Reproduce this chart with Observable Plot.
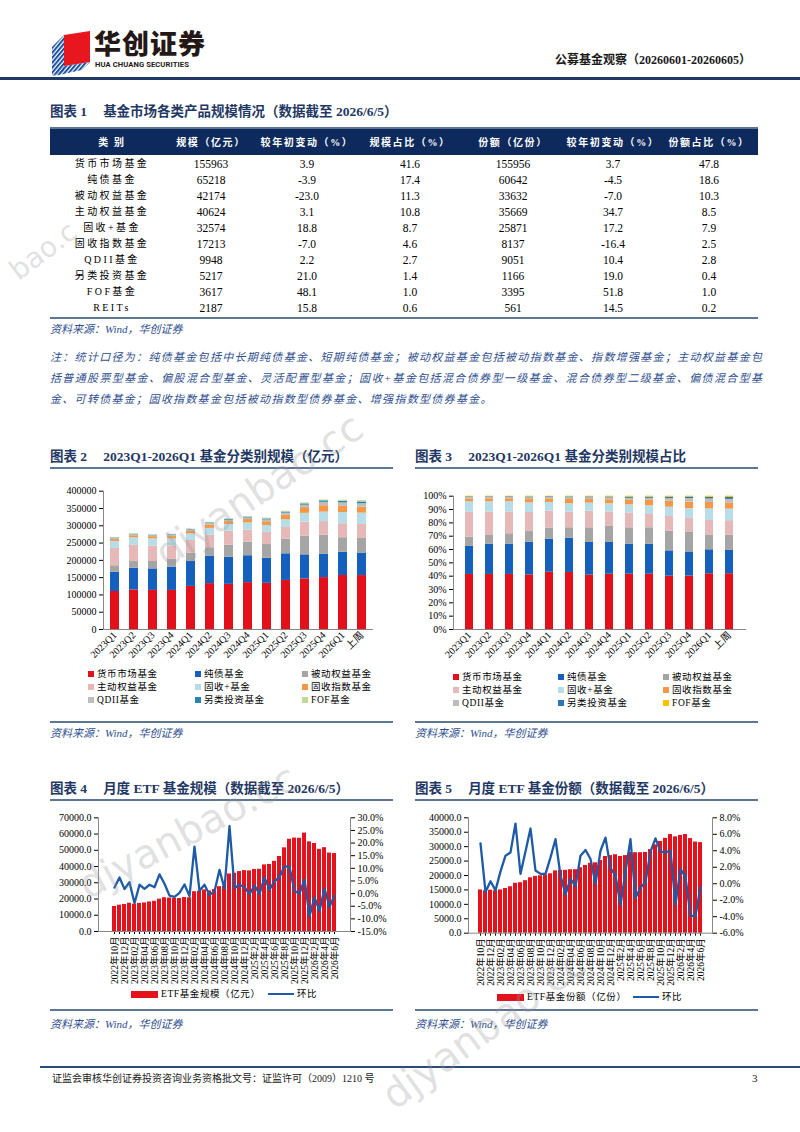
<!DOCTYPE html>
<html lang="zh-CN">
<head>
<meta charset="utf-8">
<title>公募基金观察</title>
<script src="https://cdn.jsdelivr.net/npm/d3@7"></script>
<script src="https://cdn.jsdelivr.net/npm/@observablehq/plot@0.6"></script>
<style>
html,body{margin:0;padding:0;background:#fff;}
#page{position:relative;width:800px;height:1132px;overflow:hidden;font-family:"Liberation Serif","Noto Sans CJK SC",serif;color:#000;}
.a{position:absolute;white-space:nowrap;}
.ttl{font-weight:bold;font-size:13.5px;line-height:16px;color:#1F3864;}
.ttl .n{margin-right:16px;}
.hl{position:absolute;height:2px;background:#5E7596;}
.src{font-style:italic;font-size:11px;line-height:14px;color:#2F4F8F;}
.note{font-style:italic;font-size:11px;line-height:14px;color:#2F4F8F;width:712px;text-align:justify;text-align-last:justify;}
.th{color:#fff;font-weight:bold;font-size:10px;letter-spacing:1.6px;text-align:center;width:130px;line-height:25px;}
.td{font-size:11.5px;text-align:center;width:130px;line-height:16px;}
.cat{letter-spacing:2.4px;font-size:10px;}
.lg{font-size:9.5px;line-height:12px;letter-spacing:0.6px;}
.sq{display:inline-block;width:6px;height:6px;margin-right:3px;}
.logo1{font-family:"Noto Sans CJK SC",sans-serif;font-weight:900;font-size:27px;line-height:32px;letter-spacing:1px;color:#231815;}
.logo2{font-family:Roboto,"DejaVu Sans",sans-serif;font-weight:bold;font-size:7.6px;line-height:10px;color:#231815;letter-spacing:0.1px;}
.hdr{font-weight:bold;font-size:12px;line-height:16px;color:#1a1a1a;}
.foot{font-size:10px;line-height:14px;color:#1a1a1a;}
.wm{position:absolute;font-family:"DejaVu Sans",sans-serif;font-size:40px;line-height:46px;color:rgba(150,150,150,0.30);transform-origin:left bottom;white-space:nowrap;pointer-events:none;}
</style>
</head>
<body>
<div id="page"></div>
<script>
// ---------------- DATA ----------------
// Table 1
const tableHeaders = ["类别","规模（亿元）","较年初变动（%）","规模占比（%）","份额（亿份）","较年初变动（%）","份额占比（%）"];
const tableCats = ["货币市场基金","纯债基金","被动权益基金","主动权益基金","固收+基金","固收指数基金","QDII基金","另类投资基金","FOF基金","REITs"];
const tableScale = [155963,65218,42174,40624,32574,17213,9948,5217,3617,2187];
const tableScaleChg = [3.9,-3.9,-23.0,3.1,18.8,-7.0,2.2,21.0,48.1,15.8];
const tableScaleShare = [41.6,17.4,11.3,10.8,8.7,4.6,2.7,1.4,1.0,0.6];
const tableShares = [155956,60642,33632,35669,25871,8137,9051,1166,3395,561];
const tableSharesChg = [3.7,-4.5,-7.0,34.7,17.2,-16.4,10.4,19.0,51.8,14.5];
const tableSharesShare = [47.8,18.6,10.3,8.5,7.9,2.5,2.8,0.4,1.0,0.2];

// Charts 2 & 3 (亿元)
const quarters = ["2023Q1","2023Q2","2023Q3","2023Q4","2024Q1","2024Q2","2024Q3","2024Q4","2025Q1","2025Q2","2025Q3","2025Q4","2026Q1","上周"];
const seriesNames = ["货币市场基金","纯债基金","被动权益基金","主动权益基金","固收+基金","固收指数基金","QDII基金","另类投资基金","FOF基金"];
const moneyMarket     = [109900,114300,113100,113000,124700,132700,130600,135600,133600,141900,146400,150108,156300,155963];
const pureBond        = [55900,62800,62200,67500,71900,79700,78400,77800,72500,77000,69500,67865,67300,65218];
const passiveEquity   = [18600,19400,21400,22100,23800,24200,35200,39200,39600,42100,54200,54774,41900,42174];
const activeEquity    = [49700,47000,44400,39400,37100,36300,40000,35000,35400,34200,40300,39403,40400,40624];
const fixedIncomePlus = [20700,21600,21400,19900,18900,19500,19200,20600,20000,22200,25600,27419,32500,32574];
const bondIndex       = [5300,6100,6000,6900,7800,9900,8600,9800,10600,13700,16500,18509,18000,17213];
const qdii            = [3200,3000,3000,3600,3500,4000,4200,4600,5200,5500,7000,9734,9800,9948];
const alternative     = [1300,1200,1200,1600,1300,2000,2000,2200,2800,3000,3800,4312,4600,5217];
const fof             = [1400,1300,1100,1700,1000,1700,1800,2000,2300,2400,2700,2442,3200,3617];
const seriesColors2 = ["#E3101B","#1560BD","#A5A5A5","#E6B9B8","#B7DDE8","#F79646","#BDBDBD","#2388AE","#C4D79B"];
const seriesColors3 = ["#E3101B","#1560BD","#A5A5A5","#E6B9B8","#B7DDE8","#F79646","#BDBDBD","#2E75B6","#FFC000"];

// Charts 4 & 5 (monthly)
const months = ["2022年10月","2022年11月","2022年12月","2023年01月","2023年02月","2023年03月","2023年04月","2023年05月","2023年06月","2023年07月","2023年08月","2023年09月","2023年10月","2023年11月","2023年12月","2024年01月","2024年02月","2024年03月","2024年04月","2024年05月","2024年06月","2024年07月","2024年08月","2024年09月","2024年10月","2024年11月","2024年12月","2025年1月","2025年2月","2025年3月","2025年4月","2025年5月","2025年6月","2025年7月","2025年8月","2025年9月","2025年10月","2025年11月","2025年12月","2026年1月","2026年2月","2026年3月","2026年4月","2026年5月","2026年6月"];
const monthTicks = ["2022年10月","2022年12月","2023年02月","2023年04月","2023年06月","2023年08月","2023年10月","2023年12月","2024年02月","2024年04月","2024年06月","2024年08月","2024年10月","2024年12月","2025年2月","2025年4月","2025年6月","2025年8月","2025年10月","2025年12月","2026年2月","2026年4月","2026年6月"];
const etfScale = [15400,16200,16600,17400,16800,17300,17600,18200,18600,19900,20800,20600,20400,20300,20900,20800,24500,24800,25600,25000,25900,27600,27800,35400,35800,36900,37500,37300,38200,38300,41000,41300,43200,46200,51500,56800,57500,57400,60600,55200,54200,50600,51600,48300,48000];
const etfScaleMoM = [2.4,6.4,1.8,4.5,-3.8,3.5,1.9,3.5,2.5,7.6,3.9,-0.8,-1.3,0.3,3.6,-1.0,18.6,1.1,3.5,-0.5,0.8,9.4,1.9,26.7,2.2,3.5,2.5,-0.2,3.2,-0.1,6.4,1.6,4.8,6.5,10.9,10.5,1.0,0.0,5.6,-8.9,-1.5,-6.8,2.0,-5.2,-0.8];
const etfShares = [15000,14700,14900,14700,15000,15500,16100,17300,17500,18200,19200,19700,19900,20200,20600,21600,21800,21800,22000,22000,22700,23500,24200,24400,25200,26600,26900,27200,26600,26900,28000,27900,27900,28000,29000,30600,31800,32900,34200,33400,33900,34200,32800,31600,31400];
const etfSharesMoM = [4.9,-1.0,0.3,-0.8,1.5,3.4,3.8,7.3,1.2,3.9,6.7,1.6,1.2,1.2,3.2,5.4,1.0,-1.3,0.6,-0.3,3.4,4.1,3.0,0.0,4.0,5.6,1.9,1.0,-2.6,1.5,5.4,-1.7,-0.5,0.2,3.9,5.5,3.9,3.8,4.0,-2.5,1.8,0.8,-3.9,-3.9,-0.4];
const scaleTicks4 = [0,10000,20000,30000,40000,50000,60000,70000];
const momTicks4 = [-15,-10,-5,0,5,10,15,20,25,30];
const sharesTicks5 = [0,5000,10000,15000,20000,25000,30000,35000,40000];
const momTicks5 = [-6,-4,-2,0,2,4,6,8];

// ---------------- PAGE ----------------
const page = document.getElementById("page");
function el(html) { const t = document.createElement("div"); t.innerHTML = html.trim(); const n = t.firstChild; page.appendChild(n); return n; }
function box(cls, left, top, html, extra="") { return el(`<div class="a ${cls}" style="left:${left}px;top:${top}px;${extra}">${html}</div>`); }
function hline(left, top, width, h=2, color="#5E7596") { return el(`<div class="hl" style="left:${left}px;top:${top}px;width:${width}px;height:${h}px;background:${color}"></div>`); }

// header / logo
el(`<svg class="a" style="left:50px;top:29px" width="44" height="48" viewBox="0 0 44 48">
 <defs><pattern id="st" width="3.2" height="3.2" patternUnits="userSpaceOnUse" patternTransform="rotate(40)"><rect width="2" height="3.2" fill="#1B4FA0"/></pattern></defs>
 <polygon points="2,18 14,6 14,42 2,47" fill="url(#st)"/>
 <polygon points="14,6 40,2 40,33 14,37" fill="#E8161F"/>
 <polygon points="14,37 40,33 32,41 4,47" fill="url(#st)"/>
</svg>`);
box("logo1", 94, 27, "华创证券");
box("logo2", 95, 60, "HUA CHUANG SECURITIES");
box("hdr", 555, 52, "公募基金观察（20260601-20260605）");
hline(0, 77, 800, 3, "#1F3864");

// Table 1
box("ttl", 50, 104, '<span class="n">图表 1</span>基金市场各类产品规模情况（数据截至 2026/6/5）');
hline(50, 127, 708, 2);
el(`<div class="a" style="left:50px;top:129px;width:708px;height:26px;background:#0E2A5C"></div>`);
const colCenters = [112, 211, 307, 410, 513, 613, 709];
tableHeaders.forEach((h, i) => box("th", colCenters[i] - 65, 130, i === 0 ? "类 别" : h));
tableCats.forEach((c, r) => {
  const top = 156 + 16 * r;
  const vals = [c, String(tableScale[r]), tableScaleChg[r].toFixed(1), tableScaleShare[r].toFixed(1),
                String(tableShares[r]), tableSharesChg[r].toFixed(1), tableSharesShare[r].toFixed(1)];
  vals.forEach((v, i) => box("td" + (i === 0 ? " cat" : ""), colCenters[i] - 65, top, v));
});
hline(50, 317, 708, 2);
box("src", 50, 322, "资料来源：Wind，华创证券");
box("note", 50, 350, "注：统计口径为：纯债基金包括中长期纯债基金、短期纯债基金；被动权益基金包括被动指数基金、指数增强基金；主动权益基金包");
box("note", 50, 371, "括普通股票型基金、偏股混合型基金、灵活配置型基金；固收+基金包括混合债券型一级基金、混合债券型二级基金、偏债混合型基");
box("src", 50, 392, "金、可转债基金；固收指数基金包括被动指数型债券基金、增强指数型债券基金。", "letter-spacing:1.3px;");

// Chart titles
box("ttl", 50, 449, '<span class="n">图表 2</span>2023Q1-2026Q1 基金分类别规模（亿元）');
hline(50, 467, 343, 2);
box("ttl", 415, 449, '<span class="n">图表 3</span>2023Q1-2026Q1 基金分类别规模占比');
hline(415, 467, 343, 2);

const fontFam = '"Liberation Serif","Noto Sans CJK SC",serif';
const baseStyle = {fontFamily: fontFam, fontSize: "10px", color: "#000", background: "transparent", overflow: "visible"};

function place(node, left, top) {
  node.style.position = "absolute"; node.style.left = left + "px"; node.style.top = top + "px";
  page.appendChild(node);
}

const seriesArrays = [moneyMarket, pureBond, passiveEquity, activeEquity, fixedIncomePlus, bondIndex, qdii, alternative, fof];
const stackData = [];
seriesNames.forEach((s, si) => quarters.forEach((q, qi) => stackData.push({quarter: q, series: s, value: seriesArrays[si][qi]})));

// Chart 2
const chart2 = Plot.plot({
  width: 360, height: 190,
  marginTop: 10.7, marginRight: 28, marginBottom: 41, marginLeft: 63,
  style: baseStyle,
  x: {domain: quarters, paddingInner: 0.55, paddingOuter: 0.25, label: null},
  y: {domain: [0, 400000], label: null},
  color: {domain: seriesNames, range: seriesColors2},
  marks: [
    Plot.barY(stackData, {x: "quarter", y: "value", fill: "series"}),
    Plot.axisY({ticks: d3.range(0, 400001, 50000), tickFormat: d => String(d), tickSize: 4, tickPadding: 3, label: null}),
    Plot.axisX({tickRotate: -45, tickSize: 0, tickPadding: 4, label: null}),
    Plot.frame({anchor: "left", stroke: "#888"}),
    Plot.frame({anchor: "bottom", stroke: "#888"})
  ]
});
place(chart2, 40, 480);

// Chart 3
const chart3 = Plot.plot({
  width: 380, height: 185,
  marginTop: 10.7, marginRight: 40, marginBottom: 41, marginLeft: 48,
  style: baseStyle,
  x: {domain: quarters, paddingInner: 0.584, paddingOuter: 0.285, label: null},
  y: {domain: [0, 1], label: null},
  color: {domain: seriesNames, range: seriesColors3},
  marks: [
    Plot.barY(stackData, {x: "quarter", y: "value", fill: "series", offset: "normalize"}),
    Plot.axisY({ticks: d3.range(0, 11).map(d => d / 10), tickFormat: d3.format(".0%"), tickSize: 4, tickPadding: 3, label: null}),
    Plot.axisX({tickRotate: -45, tickSize: 0, tickPadding: 4, label: null}),
    Plot.frame({anchor: "left", stroke: "#888"}),
    Plot.frame({anchor: "bottom", stroke: "#888"})
  ]
});
place(chart3, 405, 485);

// Legends charts 2 & 3
function stackLegend(colsX, rowsY, colors) {
  seriesNames.forEach((s, i) => {
    const c = i % 3, r = Math.floor(i / 3);
    box("lg", colsX[c], rowsY[r] - 6, `<span class="sq" style="background:${colors[i]}"></span>${s}`);
  });
}
stackLegend([88, 195, 302], [674, 687, 700], seriesColors2);
stackLegend([453, 558, 663], [677, 690, 703], seriesColors3);
hline(50, 721, 343, 2);
hline(415, 721, 343, 2);
box("src", 50, 726, "资料来源：Wind，华创证券");
box("src", 415, 726, "资料来源：Wind，华创证券");

// Chart 4 & 5 titles
box("ttl", 50, 781, '<span class="n">图表 4</span>月度 ETF 基金规模（数据截至 2026/6/5）');
hline(50, 799, 343, 2);
box("ttl", 415, 781, '<span class="n">图表 5</span>月度 ETF 基金份额（数据截至 2026/6/5）');
hline(415, 799, 343, 2);

function dualChart({values, mom, leftMax, rMin, rMax, leftTicks, rightTicks, width, height, marginLeft, marginRight, plotH}) {
  const toLeft = p => (p - rMin) / (rMax - rMin) * leftMax;
  const fromLeft = v => Math.round(((v / leftMax) * (rMax - rMin) + rMin) * 10) / 10;
  const data = months.map((m, i) => ({month: m, value: values[i], mom: mom[i]}));
  const tickSet = new Set(monthTicks);
  return Plot.plot({
    width, height,
    marginTop: 10.3, marginLeft, marginRight, marginBottom: height - 10.3 - plotH,
    style: baseStyle,
    x: {domain: months, paddingInner: 0.22, paddingOuter: 0.1, label: null},
    y: {domain: [0, leftMax], label: null},
    marks: [
      Plot.barY(data, {x: "month", y: "value", fill: "#E3121C"}),
      Plot.lineY(data, {x: "month", y: d => toLeft(d.mom), stroke: "#1F5AA6", strokeWidth: 2.3}),
      Plot.axisY({ticks: leftTicks, tickFormat: d => d.toFixed(1), tickSize: 4, tickPadding: 3, label: null}),
      Plot.axisY({anchor: "right", ticks: rightTicks.map(toLeft), tickFormat: v => fromLeft(v).toFixed(1) + "%", tickSize: 4, tickPadding: 3, label: null}),
      Plot.axisX({ticks: months, tickFormat: d => tickSet.has(d) ? d : "", tickRotate: -90, tickSize: 3, tickPadding: 2, fontSize: 9.5, label: null}),
      Plot.frame({anchor: "left", stroke: "#888"}),
      Plot.frame({anchor: "right", stroke: "#888"}),
      Plot.frame({anchor: "bottom", stroke: "#888"})
    ]
  });
}

const chart4 = dualChart({values: etfScale, mom: etfScaleMoM, leftMax: 70000, rMin: -15, rMax: 30,
  leftTicks: scaleTicks4, rightTicks: momTicks4, width: 360, height: 185, marginLeft: 58, marginRight: 50, plotH: 113.7});
place(chart4, 40, 807);
const chart5 = dualChart({values: etfShares, mom: etfSharesMoM, leftMax: 40000, rMin: -6, rMax: 8,
  leftTicks: sharesTicks5, rightTicks: momTicks5, width: 380, height: 185, marginLeft: 63, marginRight: 73, plotH: 115.4});
place(chart5, 405, 807);

// Legends 4 & 5
function barLineLegend(x0, y, label, xLine) {
  el(`<div class="a" style="left:${x0}px;top:${y - 3.5}px;width:27px;height:7px;background:#E3121C"></div>`);
  box("lg", x0 + 30, y - 6, label);
  el(`<div class="a" style="left:${xLine}px;top:${y - 1.2}px;width:26px;height:2.4px;background:#1F5AA6"></div>`);
  box("lg", xLine + 29, y - 6, "环比");
}
barLineLegend(131, 994, "ETF基金规模（亿元）", 268);
barLineLegend(497, 997, "ETF基金份额（亿份）", 633);
hline(50, 1009, 343, 2);
hline(415, 1009, 343, 2);
box("src", 50, 1017, "资料来源：Wind，华创证券");
box("src", 415, 1017, "资料来源：Wind，华创证券");

// footer
hline(40, 1066, 760, 2, "#2F4A7A");
box("foot", 52, 1072, "证监会审核华创证券投资咨询业务资格批文号：证监许可（2009）1210 号");
box("foot", 752, 1071, "3", "font-size:11px;");

// watermarks (faint, as on the source page)
el(`<div class="wm" style="left:4px;top:262px;font-size:28px;line-height:30px;transform-origin:left top;transform:rotate(-37deg)">bao.c</div>`);
el(`<div class="wm" style="left:172px;top:530px;transform:rotate(-34deg)">djyanbao.cc</div>`);
el(`<div class="wm" style="left:92px;top:862px;transform:rotate(-28deg)">djyanbao.cc</div>`);
el(`<div class="wm" style="left:400px;top:1072px;transform:rotate(-36deg)">djyanbao.cc</div>`);
</script>
</body>
</html>
